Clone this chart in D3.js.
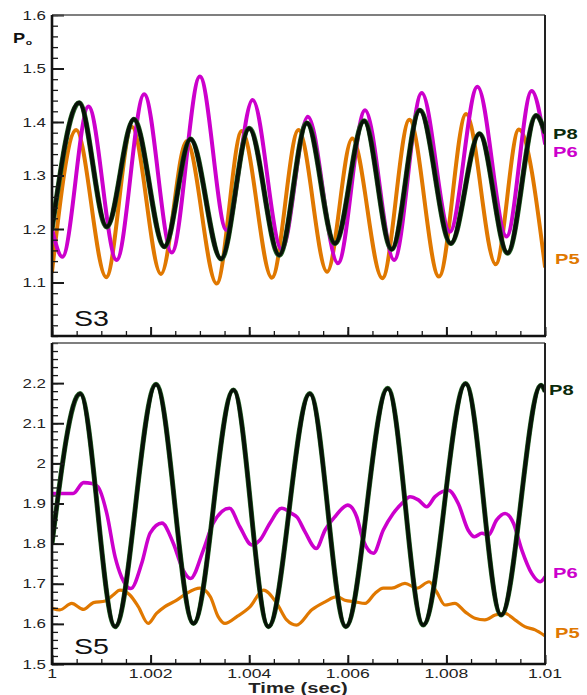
<!DOCTYPE html>
<html>
<head>
<meta charset="utf-8">
<script src="https://cdn.jsdelivr.net/npm/d3@7"></script>
<style>
  html, body { margin: 0; padding: 0; background: #fff; }
  svg { display: block; font-family: "Liberation Sans", Arial, sans-serif; }
</style>
</head>
<body>
<svg id="chart" width="587" height="695"></svg>
<script>
// ---- data ----
// S3 panel
const s3P8t = [1.0, 1.00055, 1.00111, 1.00166, 1.00228, 1.00281, 1.00343, 1.004, 1.00461, 1.00517, 1.00574, 1.00633, 1.00689, 1.00746, 1.00809, 1.00867, 1.00924, 1.00982, 1.01];
const s3P8v = [1.20, 1.436, 1.204, 1.405, 1.167, 1.368, 1.144, 1.388, 1.151, 1.398, 1.173, 1.402, 1.162, 1.422, 1.173, 1.378, 1.155, 1.412, 1.38];
const s3P5t = [1.0, 1.00049, 1.0011, 1.00162, 1.00221, 1.00273, 1.00334, 1.00385, 1.00446, 1.005, 1.00558, 1.00609, 1.0067, 1.00725, 1.00785, 1.0084, 1.009, 1.00947, 1.01];
const s3P5v = [1.12, 1.385, 1.11, 1.391, 1.116, 1.364, 1.098, 1.383, 1.109, 1.385, 1.12, 1.369, 1.108, 1.404, 1.111, 1.415, 1.134, 1.386, 1.13];
const s3P6t = [1.0, 1.00021, 1.00074, 1.00131, 1.00187, 1.00243, 1.003, 1.00354, 1.00407, 1.00466, 1.00519, 1.0058, 1.00635, 1.00694, 1.0075, 1.00807, 1.00863, 1.00922, 1.00973, 1.01];
const s3P6v = [1.2, 1.148, 1.429, 1.142, 1.452, 1.156, 1.485, 1.198, 1.441, 1.161, 1.41, 1.136, 1.422, 1.142, 1.454, 1.195, 1.466, 1.186, 1.458, 1.36];

// S5 panel
const s5P8t = [1.0, 1.00057, 1.00128, 1.00211, 1.00287, 1.00368, 1.00439, 1.00523, 1.00596, 1.00681, 1.00753, 1.00839, 1.00911, 1.00992, 1.01];
const s5P8v = [1.80, 2.174, 1.593, 2.197, 1.601, 2.183, 1.593, 2.174, 1.593, 2.187, 1.597, 2.199, 1.622, 2.195, 2.18];
const s5P6t = [1.0, 1.00043, 1.00064, 1.00081, 1.00093, 1.00111, 1.00128, 1.00141, 1.0016, 1.00182, 1.00199, 1.00223, 1.00246, 1.00266, 1.00281, 1.00307, 1.00327, 1.0036, 1.00381, 1.00405, 1.00422, 1.00442, 1.00466, 1.00486, 1.00497, 1.00513, 1.00536, 1.00554, 1.00574, 1.006, 1.00618, 1.00631, 1.00652, 1.00672, 1.00692, 1.00713, 1.00726, 1.00743, 1.0076, 1.00777, 1.00804, 1.00824, 1.00844, 1.00857, 1.00872, 1.00885, 1.00902, 1.00919, 1.00936, 1.00953, 1.00973, 1.0099, 1.01];
const s5P6v = [1.925, 1.925, 1.952, 1.95, 1.942, 1.876, 1.767, 1.717, 1.688, 1.751, 1.826, 1.851, 1.801, 1.734, 1.713, 1.784, 1.851, 1.888, 1.842, 1.797, 1.809, 1.851, 1.888, 1.875, 1.866, 1.83, 1.788, 1.834, 1.867, 1.896, 1.867, 1.809, 1.776, 1.834, 1.875, 1.904, 1.917, 1.909, 1.892, 1.917, 1.933, 1.9, 1.834, 1.817, 1.826, 1.821, 1.859, 1.875, 1.851, 1.784, 1.726, 1.705, 1.717];
const s5P5t = [1.0, 1.00016, 1.0004, 1.00064, 1.00084, 1.00108, 1.00124, 1.00138, 1.00158, 1.00175, 1.00195, 1.00212, 1.00229, 1.00253, 1.00273, 1.003, 1.00321, 1.00337, 1.00351, 1.00375, 1.00402, 1.00429, 1.00456, 1.00476, 1.00496, 1.00527, 1.00554, 1.00578, 1.00594, 1.00615, 1.00635, 1.00655, 1.00672, 1.00689, 1.00716, 1.0074, 1.00765, 1.0078, 1.00797, 1.00817, 1.00838, 1.00858, 1.00878, 1.00899, 1.00919, 1.00939, 1.00959, 1.0098, 1.01];
const s5P5v = [1.639, 1.635, 1.651, 1.636, 1.653, 1.657, 1.672, 1.684, 1.672, 1.643, 1.601, 1.626, 1.643, 1.659, 1.676, 1.689, 1.668, 1.618, 1.601, 1.618, 1.643, 1.684, 1.651, 1.61, 1.597, 1.635, 1.655, 1.668, 1.659, 1.655, 1.651, 1.676, 1.689, 1.689, 1.701, 1.689, 1.705, 1.68, 1.647, 1.651, 1.63, 1.614, 1.61, 1.622, 1.626, 1.61, 1.593, 1.585, 1.57];

// ticks and labels
const xMajor = [1.0, 1.002, 1.004, 1.006, 1.008, 1.01];
const xLabels = ['1', '1.002', '1.004', '1.006', '1.008', '1.01'];
const s3YMajor = [1.1, 1.2, 1.3, 1.4, 1.5, 1.6];
const s3YLabels = ['1.1', '1.2', '1.3', '1.4', '1.5', '1.6'];
const s5YMajor = [1.5, 1.6, 1.7, 1.8, 1.9, 2.0, 2.1, 2.2];
const s5YLabels = ['1.5', '1.6', '1.7', '1.8', '1.9', '2', '2.1', '2.2'];

const ORANGE = '#e07800', MAGENTA = '#cc00cc', DARK = '#081208', HALO = '#2a6a2a';
const SX = 1.3; // text in the source is stretched sideways

const svg = d3.select('#chart');
const left = 52, right = 545;
const x = d3.scaleLinear().domain([1.0, 1.01]).range([left, right]);

const panels = [
  { id: 's3', top: 15, bottom: 336, dom: [1.0, 1.6], ticks: s3YMajor, labels: s3YLabels, name: 'S3',
    series: [
      { t: s3P5t, v: s3P5v, c: ORANGE, w: 4 },
      { t: s3P6t, v: s3P6v, c: MAGENTA, w: 4 },
      { t: s3P8t, v: s3P8v, c: DARK, w: 4.4, halo: true }
    ],
    tags: [{ s: 'P8', c: '#0b2a0b', y: 139 }, { s: 'P6', c: MAGENTA, y: 157 }, { s: 'P5', c: ORANGE, y: 264, x: 555 }] },
  { id: 's5', top: 343, bottom: 664, dom: [1.5, 2.3], ticks: s5YMajor, labels: s5YLabels, name: 'S5',
    series: [
      { t: s5P5t, v: s5P5v, c: ORANGE, w: 3.2 },
      { t: s5P6t, v: s5P6v, c: MAGENTA, w: 3.6 },
      { t: s5P8t, v: s5P8v, c: DARK, w: 4.2, halo: true }
    ],
    tags: [{ s: 'P8', c: '#0b2a0b', y: 395, x: 549 }, { s: 'P6', c: MAGENTA, y: 578 }, { s: 'P5', c: ORANGE, y: 638, x: 555 }] }
];

function label(g, px, py, s, size, weight, anchor, fill) {
  return g.append('text')
    .attr('transform', `translate(${px},${py}) scale(${SX},1)`)
    .attr('text-anchor', anchor)
    .style('font-size', size + 'px')
    .style('font-weight', weight)
    .attr('fill', fill)
    .text(s);
}

panels.forEach(p => {
  const y = d3.scaleLinear().domain(p.dom).range([p.bottom, p.top]);
  const g = svg.append('g');

  g.append('clipPath').attr('id', 'clip-' + p.id)
    .append('rect').attr('x', left).attr('y', p.top).attr('width', right - left).attr('height', p.bottom - p.top);

  const line = d3.line().x(d => x(d[0])).y(d => y(d[1])).curve(d3.curveMonotoneX);
  const plot = g.append('g').attr('clip-path', `url(#clip-${p.id})`);
  p.series.forEach(s => {
    const pts = s.t.map((t, i) => [t, s.v[i]]);
    if (s.halo) {
      plot.append('path').attr('d', line(pts)).attr('fill', 'none')
        .attr('stroke', HALO).attr('stroke-width', s.w + 0.8).attr('stroke-linejoin', 'round');
    }
    plot.append('path').attr('d', line(pts)).attr('fill', 'none')
      .attr('stroke', s.c).attr('stroke-width', s.halo ? s.w - 0.4 : s.w)
      .attr('stroke-linejoin', 'round').attr('stroke-linecap', 'round');
  });

  // minor and major ticks, pointing inward
  const yMinor = d3.range(Math.round(p.dom[0] * 50), Math.round(p.dom[1] * 50) + 1).map(k => k / 50);
  const xMinor = d3.range(0, 21).map(k => 1 + k * 0.0005);

  const axes = [
    { a: d3.axisLeft(y).tickValues(yMinor).tickSize(-6), tr: `translate(${left},0)`, sw: 1.3 },
    { a: d3.axisLeft(y).tickValues(p.ticks).tickSize(-12), tr: `translate(${left},0)`, sw: 2 },
    { a: d3.axisBottom(x).tickValues(xMinor).tickSize(-5), tr: `translate(0,${p.bottom})`, sw: 1.3 },
    { a: d3.axisBottom(x).tickValues(xMajor).tickSize(-9), tr: `translate(0,${p.bottom})`, sw: 2 }
  ];
  axes.forEach(ax => {
    const ag = g.append('g').attr('transform', ax.tr).call(ax.a.tickFormat(''));
    ag.select('.domain').remove();
    ag.selectAll('line').attr('stroke', '#1a1a1a').attr('stroke-width', ax.sw);
  });

  // frame
  g.append('line').attr('x1', left).attr('x2', right).attr('y1', p.top).attr('y2', p.top)
    .attr('stroke', '#555').attr('stroke-width', 1.6);
  g.append('line').attr('x1', right).attr('x2', right).attr('y1', p.top).attr('y2', p.bottom)
    .attr('stroke', '#222').attr('stroke-width', 2);
  g.append('line').attr('x1', left).attr('x2', left).attr('y1', p.top).attr('y2', p.bottom + 1)
    .attr('stroke', '#111').attr('stroke-width', 2.6);
  g.append('line').attr('x1', left - 1).attr('x2', right + 1).attr('y1', p.bottom).attr('y2', p.bottom)
    .attr('stroke', '#111').attr('stroke-width', 2.6);

  // y tick labels
  p.ticks.forEach((t, i) => {
    label(g, 46, y(t) + 4.6, p.labels[i], 13, 'normal', 'end', '#222');
  });

  label(g, 74, p.bottom - 10, p.name, 22, 'normal', 'start', '#111');

  p.tags.forEach(tg => {
    label(g, tg.x || 553, tg.y, tg.s, 15.5, 'bold', 'start', tg.c);
  });
});

// x tick labels (bottom panel only)
xMajor.forEach((t, i) => {
  label(svg, x(t), 678, xLabels[i], 13.5, 'normal', 'middle', '#222');
});

label(svg, 298, 693, 'Time (sec)', 15.5, 'bold', 'middle', '#222');

// y title
const yt = svg.append('text')
  .attr('transform', `translate(13,43) scale(${SX},1)`)
  .style('font-size', '14px').style('font-weight', 'bold').attr('fill', '#111');
yt.append('tspan').text('P');
yt.append('tspan').attr('dx', 0.5).attr('dy', 2).style('font-size', '8px').text('o');
</script>
</body>
</html>
